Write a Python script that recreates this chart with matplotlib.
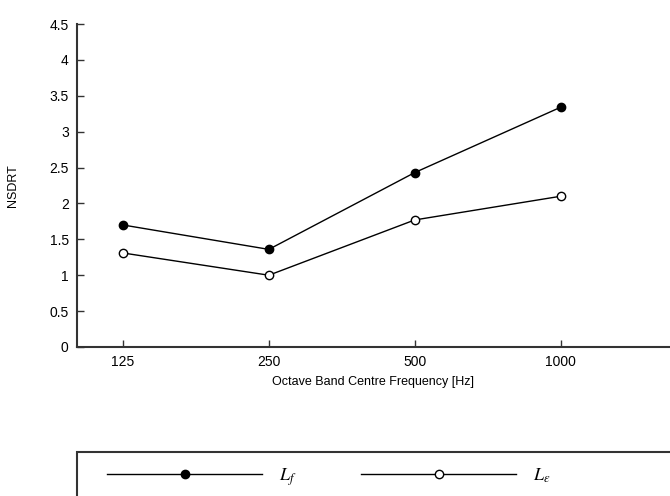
import matplotlib.pyplot as plt
from matplotlib.patches import Rectangle
from matplotlib.ticker import FuncFormatter

# octave band data
bands = ['125', '250', '500', '1000']
nsdrt_f = [1.70, 1.36, 2.43, 3.34]
nsdrt_e = [1.31, 1.00, 1.77, 2.10]

plt.rcParams['font.family'] = ['Liberation Sans', 'DejaVu Sans']
plt.rcParams['mathtext.fontset'] = 'stix'

fig = plt.figure(figsize=(6.7, 4.96), dpi=100)
ax = fig.add_axes([77 / 670, 1 - 347 / 496, 1 - 77 / 670, (347 - 24) / 496])

x = range(len(bands))
l1, = ax.plot(x, nsdrt_f, color='black', lw=1, marker='o', ms=6,
              mfc='black', mec='black', mew=1)
l2, = ax.plot(x, nsdrt_e, color='black', lw=1, marker='o', ms=6,
              mfc='white', mec='black', mew=1)

ax.set_xlim(-0.315, 3.75)
ax.set_ylim(0, 4.5)
ax.set_xticks(list(x))
ax.set_xticklabels(bands)
ax.set_yticks([i * 0.5 for i in range(10)])
ax.yaxis.set_major_formatter(FuncFormatter(lambda v, p: f'{v:g}'))

for side in ['top', 'right']:
    ax.spines[side].set_visible(False)
for side in ['left', 'bottom']:
    ax.spines[side].set_linewidth(1.5)
    ax.spines[side].set_color('#333333')
ax.tick_params(direction='in', length=5, width=1, labelsize=10, color='#333333')
ax.tick_params(axis='y', pad=6)
ax.tick_params(axis='x', pad=6)

ax.set_xlabel('Octave Band Centre Frequency [Hz]', fontsize=9, labelpad=5)
ax.set_ylabel('NSDRT', fontsize=9, labelpad=22)

# legend entries, frame drawn separately so it runs off the right and bottom edges
fig.legend([l1, l2], [r'$L_f$', r'$L_\varepsilon$'], ncol=2,
           loc='upper left', bbox_to_anchor=(107 / 670, 1 - 466 / 496),
           handlelength=8.6, fontsize=13, frameon=False,
           borderaxespad=0, borderpad=0, columnspacing=3.6, handletextpad=0.9)
fig.add_artist(Rectangle((77 / 670, -0.05), 1.0, 0.05 + 1 - 452 / 496,
                         transform=fig.transFigure, fill=False,
                         lw=1.5, edgecolor='#333333'))

fig.savefig('out.png', dpi=100)
